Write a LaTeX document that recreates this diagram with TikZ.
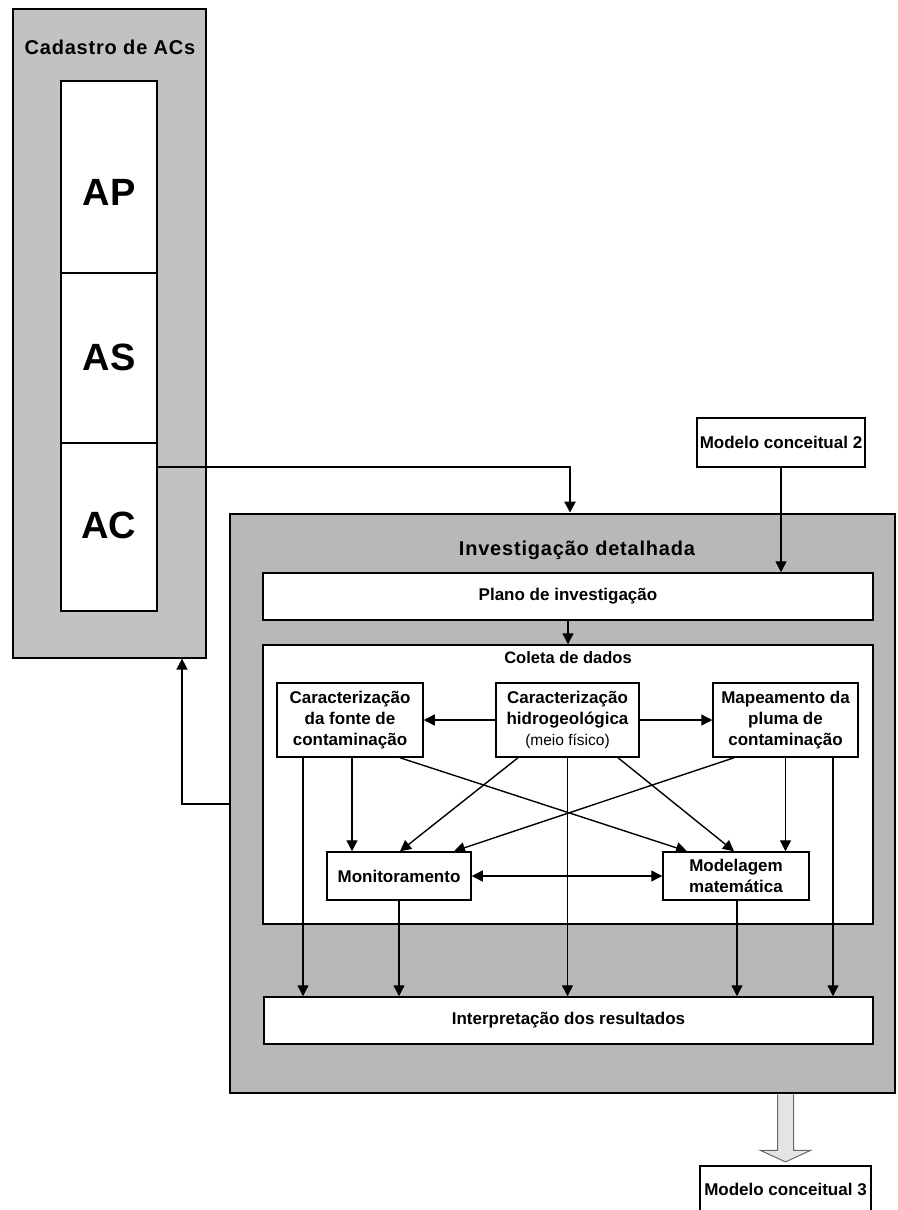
\documentclass[tikz,border=0pt]{standalone}
\usepackage{fontspec}
\setmainfont{Liberation Sans}
\newfontfamily\spacedfont[LetterSpace=4]{Liberation Sans}
\usetikzlibrary{arrows.meta,calc}
\definecolor{leftgray}{RGB}{194,194,194}
\definecolor{biggray}{RGB}{184,184,184}
\definecolor{hollow}{RGB}{228,228,228}
\begin{document}
\begin{tikzpicture}[x=1pt,y=-1pt,
  box/.style={draw=black, line width=1.5pt, fill=white, align=center, inner sep=0pt,
    font=\fontsize{17}{20.7}\selectfont\bfseries},
  cell/.style={draw=black, line width=1.8pt, fill=white, minimum width=96pt, inner sep=0pt},
  big/.style={font=\fontsize{38}{40}\selectfont\bfseries},
  title/.style={font=\fontsize{20}{22}\spacedfont\bfseries},
  lbl/.style={font=\fontsize{16.5}{20}\selectfont\bfseries},
  arr/.style={-{Triangle[length=11pt,width=11pt]}, line width=1.4pt},
  dbl/.style={{Triangle[length=11pt,width=11pt]}-{Triangle[length=11pt,width=11pt]}, line width=1.4pt},
]
\useasboundingbox (0,0) rectangle (897,1210);

% left column
\node[draw=black, line width=1.2pt, fill=leftgray, minimum width=193pt, minimum height=649pt, inner sep=0pt] (cad) at (109.5,333.5) {};
\node[title] (cadt) at (110,47) {Cadastro de ACs};
\node[cell, minimum height=192pt] (AP) at (109,177) {};
\node[cell, minimum height=170pt] (AS) at (109,358) {};
\node[cell, minimum height=168pt] (AC) at (109,527) {};
\node[big] (APt) at (109,192) {AP};
\node[big] (ASt) at (109,357) {AS};
\node[big] (ACt) at (109,525) {AC};

% big box
\node[draw=black, line width=2.8pt, fill=biggray, minimum width=665pt, minimum height=579pt, inner sep=0pt] (inv) at (562.5,803.5) {};
\node[title] (invt) at (577,550) {Investigação detalhada};

\node[box, minimum width=168pt, minimum height=49pt, line width=1.3pt] (m2) at (781,442.5) {Modelo conceitual 2};

\node[box, minimum width=610pt, minimum height=47pt] (plano) at (568,596.5) {Plano de investigação};
\node[box, minimum width=610pt, minimum height=279pt] (coleta) at (568,784.5) {};
\node[lbl] (coletat) at (568,658) {Coleta de dados};

\node[box, minimum width=146pt, minimum height=74pt] (fonte) at (350,720) {Caracterização\\da fonte de\\contaminação};
\node[box, minimum width=143pt, minimum height=74pt] (hidro) at (567.5,720) {Caracterização\\hidrogeológica\\{\mdseries\fontsize{15.5}{20.7}\selectfont(meio físico)}};
\node[box, minimum width=145pt, minimum height=74pt] (mapa) at (785.5,720) {Mapeamento da\\pluma de\\contaminação};
\node[box, minimum width=144pt, minimum height=48pt] (mon) at (399,876) {Monitoramento};
\node[box, minimum width=146pt, minimum height=48pt] (mod) at (736,876) {Modelagem\\matemática};
\node[box, minimum width=609pt, minimum height=47pt] (interp) at (568.5,1020.5) {Interpretação dos resultados};

\node[box, minimum width=171pt, minimum height=46pt, line width=2.2pt] (m3) at (785.5,1189) {Modelo conceitual 3};

% connectors
\coordinate (acout) at (157,467);
\draw[arr, line width=2.4pt] (acout) -| ([xshift=7.5pt]inv.north);
\draw[arr] (m2.south) -- (m2.south |- plano.north);
\draw[arr] (plano.south) -- (coleta.north);
\draw[arr] (hidro.west) -- (fonte.east);
\draw[arr] (hidro.east) -- (mapa.west);
\draw[arr] ([xshift=2pt]fonte.south) -- ([xshift=2pt]fonte.south |- mon.north);
\draw[arr] ([xshift=-47pt]fonte.south) -- ([xshift=-47pt]fonte.south |- interp.north);
\draw[arr] ([xshift=50pt]fonte.south) -- ([xshift=-49pt]mod.north);
\draw[arr] ([xshift=-49.5pt]hidro.south) -- ([xshift=1pt]mon.north);
\draw[arr] (hidro.south) -- (hidro.south |- interp.north);
\draw[arr] ([xshift=50.5pt]hidro.south) -- ([xshift=-2pt]mod.north);
\draw[arr] ([xshift=-51.5pt]mapa.south) -- ([xshift=55pt]mon.north);
\draw[arr] (mapa.south) -- (mapa.south |- mod.north);
\draw[arr] ([xshift=47.5pt]mapa.south) -- ([xshift=47.5pt]mapa.south |- interp.north);
\draw[dbl] (mon.east) -- (mod.west);
\draw[arr] (mon.south) -- (mon.south |- interp.north);
\draw[arr] ([xshift=1pt]mod.south) -- ([xshift=1pt]mod.south |- interp.north);
\coordinate (fb) at (230,804);
\draw[arr] (fb) -| ([xshift=72.5pt]cad.south);

% hollow arrow to Modelo conceitual 3
\draw[draw=gray!80!black, line width=1pt, fill=hollow, line join=miter]
  ($(inv.south -| m3.north)+(-8,0)$) -- ++(0,56) -- ++(-17,0) -- ($(m3.north)+(0,-3)$)
  -- ($(inv.south -| m3.north)+(25,56)$) -- ++(-17,0) -- ++(0,-56);
\end{tikzpicture}
\end{document}
